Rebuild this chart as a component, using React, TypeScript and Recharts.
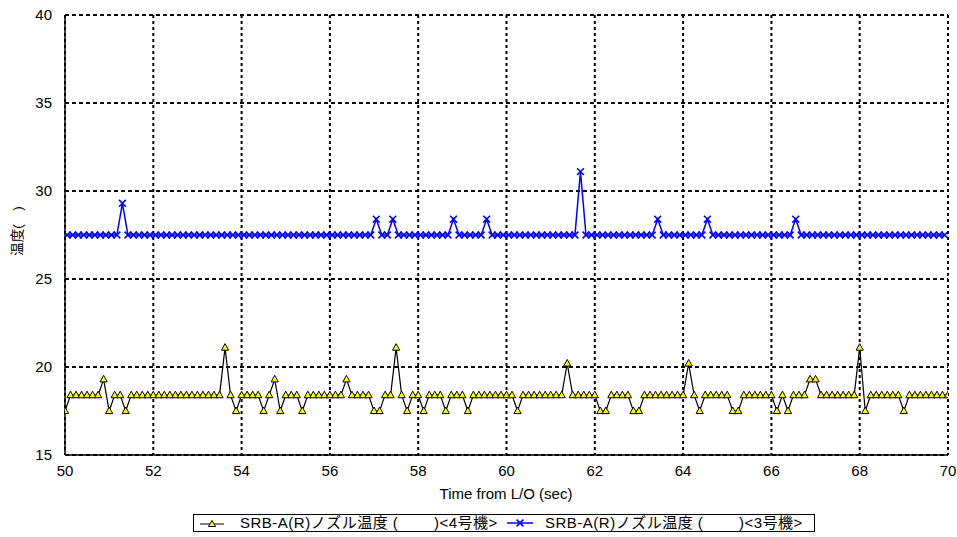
import React from "react";
import { LineChart, Line, XAxis, YAxis, CartesianGrid } from "recharts";

// Nozzle temperature samples, 8 samples per second (0.125 s interval)
const SAMPLE_INTERVAL = 0.125;
const START_TIME_UNIT4 = 50.0;
const START_TIME_UNIT3 = 50.05;

// SRB-A(R) nozzle temperature, unit 4 (one row = one second)
const tempUnit4: number[] = [
  17.5, 18.4, 18.4, 18.4, 18.4, 18.4, 18.4, 19.3,
  17.5, 18.4, 18.4, 17.5, 18.4, 18.4, 18.4, 18.4,
  18.4, 18.4, 18.4, 18.4, 18.4, 18.4, 18.4, 18.4,
  18.4, 18.4, 18.4, 18.4, 18.4, 21.1, 18.4, 17.5,
  18.4, 18.4, 18.4, 18.4, 17.5, 18.4, 19.3, 17.5,
  18.4, 18.4, 18.4, 17.5, 18.4, 18.4, 18.4, 18.4,
  18.4, 18.4, 18.4, 19.3, 18.4, 18.4, 18.4, 18.4,
  17.5, 17.5, 18.4, 18.4, 21.1, 18.4, 17.5, 18.4,
  18.4, 17.5, 18.4, 18.4, 18.4, 17.5, 18.4, 18.4,
  18.4, 17.5, 18.4, 18.4, 18.4, 18.4, 18.4, 18.4,
  18.4, 18.4, 17.5, 18.4, 18.4, 18.4, 18.4, 18.4,
  18.4, 18.4, 18.4, 20.2, 18.4, 18.4, 18.4, 18.4,
  18.4, 17.5, 17.5, 18.4, 18.4, 18.4, 18.4, 17.5,
  17.5, 18.4, 18.4, 18.4, 18.4, 18.4, 18.4, 18.4,
  18.4, 20.2, 18.4, 17.5, 18.4, 18.4, 18.4, 18.4,
  18.4, 17.5, 17.5, 18.4, 18.4, 18.4, 18.4, 18.4,
  18.4, 17.5, 18.4, 17.5, 18.4, 18.4, 18.4, 19.3,
  19.3, 18.4, 18.4, 18.4, 18.4, 18.4, 18.4, 18.4,
  21.1, 17.5, 18.4, 18.4, 18.4, 18.4, 18.4, 18.4,
  17.5, 18.4, 18.4, 18.4, 18.4, 18.4, 18.4, 18.4,
  18.4,
];

// SRB-A(R) nozzle temperature, unit 3 (one row = one second)
const tempUnit3: number[] = [
  27.5, 27.5, 27.5, 27.5, 27.5, 27.5, 27.5, 27.5,
  27.5, 27.5, 29.3, 27.5, 27.5, 27.5, 27.5, 27.5,
  27.5, 27.5, 27.5, 27.5, 27.5, 27.5, 27.5, 27.5,
  27.5, 27.5, 27.5, 27.5, 27.5, 27.5, 27.5, 27.5,
  27.5, 27.5, 27.5, 27.5, 27.5, 27.5, 27.5, 27.5,
  27.5, 27.5, 27.5, 27.5, 27.5, 27.5, 27.5, 27.5,
  27.5, 27.5, 27.5, 27.5, 27.5, 27.5, 27.5, 27.5,
  28.4, 27.5, 27.5, 28.4, 27.5, 27.5, 27.5, 27.5,
  27.5, 27.5, 27.5, 27.5, 27.5, 27.5, 28.4, 27.5,
  27.5, 27.5, 27.5, 27.5, 28.4, 27.5, 27.5, 27.5,
  27.5, 27.5, 27.5, 27.5, 27.5, 27.5, 27.5, 27.5,
  27.5, 27.5, 27.5, 27.5, 27.5, 31.1, 27.5, 27.5,
  27.5, 27.5, 27.5, 27.5, 27.5, 27.5, 27.5, 27.5,
  27.5, 27.5, 27.5, 28.4, 27.5, 27.5, 27.5, 27.5,
  27.5, 27.5, 27.5, 27.5, 28.4, 27.5, 27.5, 27.5,
  27.5, 27.5, 27.5, 27.5, 27.5, 27.5, 27.5, 27.5,
  27.5, 27.5, 27.5, 27.5, 28.4, 27.5, 27.5, 27.5,
  27.5, 27.5, 27.5, 27.5, 27.5, 27.5, 27.5, 27.5,
  27.5, 27.5, 27.5, 27.5, 27.5, 27.5, 27.5, 27.5,
  27.5, 27.5, 27.5, 27.5, 27.5, 27.5, 27.5, 27.5,
];

const xTicks = [50, 52, 54, 56, 58, 60, 62, 64, 66, 68, 70];
const yTicks = [15, 20, 25, 30, 35, 40];

const seriesNames = [
  "SRB-A(R)ノズル温度 (\u3000\u3000 )<4号機>",
  "SRB-A(R)ノズル温度 (\u3000\u3000 )<3号機>",
];
const xAxisTitle = "Time from L/O (sec)";
const yAxisTitle = "温度(\u3000)";

const unit4Data = tempUnit4.map((v, i) => ({ t: START_TIME_UNIT4 + i * SAMPLE_INTERVAL, v }));
const unit3Data = tempUnit3.map((v, i) => ({ t: START_TIME_UNIT3 + i * SAMPLE_INTERVAL, v }));

const FONT = '"Liberation Sans", Arial, "Noto Sans CJK JP", sans-serif';
const YELLOW = "#FFFF00";
const BLUE = "#0000FF";

const TriangleDot = (props: any) => {
  const { cx, cy, index } = props;
  if (cx == null || cy == null) return <g key={`tri-${index}`} />;
  const pts = `${cx},${cy - 4} ${cx - 3.6},${cy + 2.6} ${cx + 3.6},${cy + 2.6}`;
  return <polygon key={`tri-${index}`} points={pts} fill={YELLOW} stroke="#000" strokeWidth={1} />;
};

const CrossDot = (props: any) => {
  const { cx, cy, index } = props;
  if (cx == null || cy == null) return <g key={`x-${index}`} />;
  const r = 3.4;
  return (
    <path
      key={`x-${index}`}
      d={`M${cx - r},${cy - r}L${cx + r},${cy + r}M${cx - r},${cy + r}L${cx + r},${cy - r}`}
      stroke={BLUE}
      strokeWidth={1.6}
      fill="none"
    />
  );
};

const YTitle = () => (
  <text
    x={17}
    y={231}
    transform="rotate(-90 17 231)"
    textAnchor="middle"
    dominantBaseline="central"
    fontFamily={FONT}
    fontSize={13.5}
    fill="#000"
  >
    {yAxisTitle}
  </text>
);

const XTitle = () => (
  <text
    x={506}
    y={493}
    textAnchor="middle"
    dominantBaseline="central"
    fontFamily={FONT}
    fontSize={15}
    fill="#000"
  >
    {xAxisTitle}
  </text>
);

const LegendSwatch = ({ kind, width }: { kind: "tri" | "x"; width: number }) => {
  const mid = width / 2;
  return (
    <svg width={width} height={14} style={{ display: "block" }}>
      {kind === "tri" ? (
        <>
          <line x1={0} y1={8} x2={width} y2={8} stroke="#000" strokeWidth={1} />
          <polygon
            points={`${mid},4.5 ${mid - 3.6},10.5 ${mid + 3.6},10.5`}
            fill={YELLOW}
            stroke="#000"
            strokeWidth={1}
          />
        </>
      ) : (
        <>
          <line x1={0} y1={7} x2={width} y2={7} stroke={BLUE} strokeWidth={1.5} />
          <path
            d={`M${mid - 3.4},${3.6}L${mid + 3.4},${10.4}M${mid - 3.4},${10.4}L${mid + 3.4},${3.6}`}
            stroke={BLUE}
            strokeWidth={1.6}
          />
        </>
      )}
    </svg>
  );
};

const legendText: React.CSSProperties = {
  position: "absolute",
  top: 0,
  lineHeight: "16px",
  whiteSpace: "pre",
  letterSpacing: 0.5,
};

export default function App() {
  return (
    <div style={{ position: "fixed", left: 0, top: 0, width: 957, height: 537, background: "#fff" }}>
      <LineChart width={957} height={537} margin={{ top: 15, right: 9, bottom: 52, left: 5 }}>
        <CartesianGrid horizontal={true} vertical={false} stroke="#000" strokeWidth={2} strokeDasharray="4 3" />
        <CartesianGrid horizontal={false} vertical={true} stroke="#000" strokeWidth={2} strokeDasharray="3 3" />
        <XAxis
          type="number"
          dataKey="t"
          domain={[50, 70]}
          ticks={xTicks}
          allowDataOverflow
          height={30}
          axisLine={{ stroke: "#000", strokeWidth: 1.5 }}
          tickLine={false}
          tickMargin={4}
          tick={{ fill: "#000", fontSize: 15, fontFamily: FONT }}
          label={<XTitle />}
        />
        <YAxis
          type="number"
          dataKey="v"
          domain={[15, 40]}
          ticks={yTicks}
          allowDataOverflow
          width={60}
          axisLine={{ stroke: "#000", strokeWidth: 1.5 }}
          tickLine={false}
          tickMargin={7}
          tick={{ fill: "#000", fontSize: 15, fontFamily: FONT }}
          label={<YTitle />}
        />
        <Line
          data={unit4Data}
          dataKey="v"
          name={seriesNames[0]}
          type="linear"
          stroke="#000"
          strokeWidth={1.2}
          dot={(p: any) => <TriangleDot {...p} />}
          activeDot={false}
          isAnimationActive={false}
        />
        <Line
          data={unit3Data}
          dataKey="v"
          name={seriesNames[1]}
          type="linear"
          stroke={BLUE}
          strokeWidth={1.5}
          dot={(p: any) => <CrossDot {...p} />}
          activeDot={false}
          isAnimationActive={false}
        />
      </LineChart>
      <div
        style={{
          position: "absolute",
          left: 193,
          top: 514,
          width: 620,
          height: 16,
          border: "1px solid #000",
          fontFamily: FONT,
          fontSize: 15,
          color: "#000",
        }}
      >
        <div style={{ position: "absolute", left: 6, top: 1 }}>
          <LegendSwatch kind="tri" width={24} />
        </div>
        <span style={{ ...legendText, left: 46 }}>{seriesNames[0]}</span>
        <div style={{ position: "absolute", left: 313, top: 1 }}>
          <LegendSwatch kind="x" width={26} />
        </div>
        <span style={{ ...legendText, left: 351 }}>{seriesNames[1]}</span>
      </div>
    </div>
  );
}
